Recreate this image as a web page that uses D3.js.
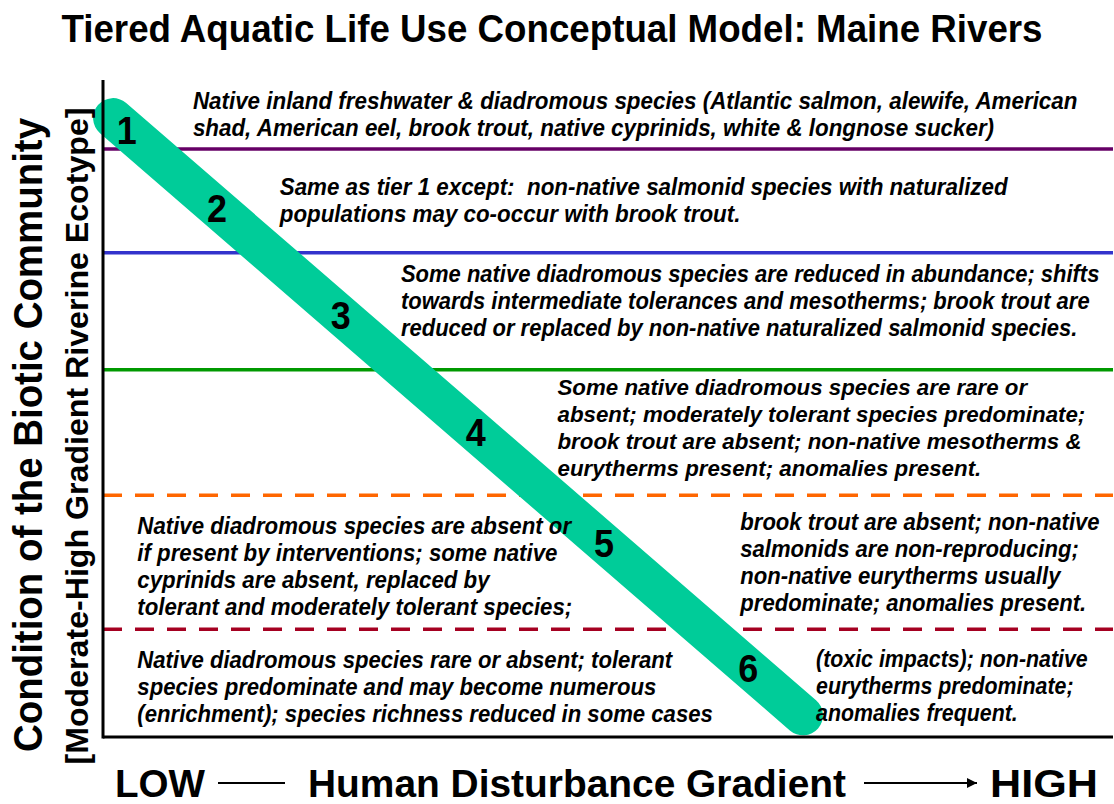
<!DOCTYPE html>
<html>
<head>
<meta charset="utf-8">
<title>Tiered Aquatic Life Use Conceptual Model</title>
<script src="https://cdn.jsdelivr.net/npm/d3@7"></script>
<style>
  body { margin: 0; background: #fff; }
  text { font-family: "Liberation Sans", Arial, sans-serif; white-space: pre; }
</style>
</head>
<body>
<div id="chart"></div>
<script>
// tier boundaries on the condition axis (0 = worst, 100 = best)
var tierBounds = [89.5, 73.7, 55.9, 36.8, 16.4];
var tierColors = ["#660066", "#3333CC", "#009900", "#FF6600", "#A50021"];
var tierDashed = [false, false, false, true, true];

// the tier band: from low disturbance / high condition to high disturbance / low condition
var bandDisturbance = [1.0, 69.3];
var bandCondition = [94.2, 3.3];

// tier numbers and where they sit along the band (condition value)
var tierNames = ["1", "2", "3", "4", "5", "6"];
var tierLabelCond = [92.4, 80.5, 64.2, 46.4, 29.5, 10.5];

// description blocks: lines, left edge (disturbance), first baseline (condition), width of widest line
var blockLines = [
  ["Native inland freshwater & diadromous species (Atlantic salmon, alewife, American",
   "shad, American eel, brook trout, native cyprinids, white & longnose sucker)"],
  ["Same as tier 1 except:  non-native salmonid species with naturalized",
   "populations may co-occur with brook trout."],
  ["Some native diadromous species are reduced in abundance; shifts",
   "towards intermediate tolerances and mesotherms; brook trout are",
   "reduced or replaced by non-native naturalized salmonid species."],
  ["Some native diadromous species are rare or",
   "absent; moderately tolerant species predominate;",
   "brook trout are absent; non-native mesotherms &",
   "eurytherms present; anomalies present."],
  ["Native diadromous species are absent or",
   "if present by interventions; some native",
   "cyprinids are absent, replaced by",
   "tolerant and moderately tolerant species;"],
  ["brook trout are absent; non-native",
   "salmonids are non-reproducing;",
   "non-native eurytherms usually",
   "predominate; anomalies present."],
  ["Native diadromous species rare or absent; tolerant",
   "species predominate and may become numerous",
   "(enrichment); species richness reduced in some cases"],
  ["(toxic impacts); non-native",
   "eurytherms predominate;",
   "anomalies frequent."]
];
var blockX = [8.9, 17.5, 29.5, 45.0, 3.4, 63.1, 3.4, 70.6];
var blockY = [95.6, 82.5, 69.3, 52.0, 30.9, 31.5, 10.5, 10.7];
var blockW = [87.6, 72.1, 69.2, 52.3, 43.1, 35.6, 57.0, 26.9];

var titleText = "Tiered Aquatic Life Use Conceptual Model: Maine Rivers";
var yTitle = "Condition of the Biotic Community";
var ySubTitle = "[Moderate-High Gradient Riverine Ecotype]";
var xLow = "LOW", xHigh = "HIGH", xTitle = "Human Disturbance Gradient";

var W = 1114, H = 804;
var svg = d3.select("#chart").append("svg").attr("width", W).attr("height", H);

var x = d3.scaleLinear().domain([0, 100]).range([103, 1113]);
var y = d3.scaleLinear().domain([0, 100]).range([737, 80]);

// title
svg.append("text")
  .attr("x", 552).attr("y", 42)
  .attr("text-anchor", "middle")
  .attr("font-size", 38).attr("font-weight", "bold")
  .attr("textLength", 981).attr("lengthAdjust", "spacingAndGlyphs")
  .text(titleText);

// tier boundary lines
svg.selectAll(".tier").data(tierBounds).enter().append("line")
  .attr("class", "tier")
  .attr("x1", x(0)).attr("x2", x(100))
  .attr("y1", d => y(d)).attr("y2", d => y(d))
  .attr("stroke", (d, i) => tierColors[i])
  .attr("stroke-width", 3.5)
  .attr("stroke-dasharray", (d, i) => tierDashed[i] ? "19,13" : null);

// band
svg.append("line")
  .attr("x1", x(bandDisturbance[0])).attr("y1", y(bandCondition[0]))
  .attr("x2", x(bandDisturbance[1])).attr("y2", y(bandCondition[1]))
  .attr("stroke", "#00CC99").attr("stroke-width", 40)
  .attr("stroke-linecap", "round");

// axes (just the two lines)
svg.append("line").attr("x1", x(0)).attr("x2", x(0)).attr("y1", y(100)).attr("y2", y(0) + 1.5)
  .attr("stroke", "#000").attr("stroke-width", 3);
svg.append("line").attr("x1", x(0)).attr("x2", x(100)).attr("y1", y(0)).attr("y2", y(0))
  .attr("stroke", "#000").attr("stroke-width", 3);

// tier numbers along the band
var condToDist = d3.scaleLinear().domain(bandCondition).range(bandDisturbance);
svg.selectAll(".num").data(tierNames).enter().append("text")
  .attr("class", "num")
  .attr("x", (d, i) => x(condToDist(tierLabelCond[i])))
  .attr("y", (d, i) => y(tierLabelCond[i]))
  .attr("dy", "0.36em")
  .attr("text-anchor", "middle")
  .attr("font-size", 38).attr("font-weight", "bold")
  .attr("textLength", 20).attr("lengthAdjust", "spacingAndGlyphs")
  .text(d => d);

// description blocks
blockLines.forEach(function(lines, i) {
  var g = svg.append("g");
  var t = g.append("text")
    .attr("font-size", 23).attr("font-weight", "bold").attr("font-style", "italic");
  t.selectAll("tspan").data(lines).enter().append("tspan")
    .attr("x", 0).attr("y", (d, j) => j * 27)
    .text(d => d);
  var natural = d3.max(t.selectAll("tspan").nodes(), n => n.getComputedTextLength());
  var target = x(blockX[i] + blockW[i]) - x(blockX[i]);
  g.attr("transform", "translate(" + x(blockX[i]) + "," + y(blockY[i]) + ") scale(" + (target / natural) + ",1)");
});

// y axis titles
svg.append("text")
  .attr("transform", "translate(42,435) rotate(-90)")
  .attr("text-anchor", "middle")
  .attr("font-size", 40).attr("font-weight", "bold")
  .attr("textLength", 634).attr("lengthAdjust", "spacingAndGlyphs")
  .text(yTitle);
svg.append("text")
  .attr("transform", "translate(88,436) rotate(-90)")
  .attr("text-anchor", "middle")
  .attr("font-size", 31).attr("font-weight", "bold")
  .attr("textLength", 657).attr("lengthAdjust", "spacingAndGlyphs")
  .text(ySubTitle);

// x axis title with LOW / HIGH
var bottom = svg.append("g").attr("font-size", 38).attr("font-weight", "bold");
bottom.append("text").attr("x", 115).attr("y", 797)
  .attr("textLength", 90).attr("lengthAdjust", "spacingAndGlyphs").text(xLow);
bottom.append("text").attr("x", 308).attr("y", 797)
  .attr("textLength", 538).attr("lengthAdjust", "spacingAndGlyphs").text(xTitle);
bottom.append("text").attr("x", 990).attr("y", 797)
  .attr("textLength", 108).attr("lengthAdjust", "spacingAndGlyphs").text(xHigh);

svg.append("defs").append("marker")
  .attr("id", "arrow").attr("viewBox", "0 0 10 10")
  .attr("refX", 10).attr("refY", 5)
  .attr("markerWidth", 5).attr("markerHeight", 5)
  .attr("markerUnits", "strokeWidth").attr("orient", "auto")
  .append("path").attr("d", "M0,0 L10,5 L0,10 z").attr("fill", "#000");

svg.append("line").attr("x1", 218).attr("x2", 285).attr("y1", 783).attr("y2", 783)
  .attr("stroke", "#000").attr("stroke-width", 2);
svg.append("line").attr("x1", 864).attr("x2", 977).attr("y1", 783).attr("y2", 783)
  .attr("stroke", "#000").attr("stroke-width", 2)
  .attr("marker-end", "url(#arrow)");
</script>
</body>
</html>
